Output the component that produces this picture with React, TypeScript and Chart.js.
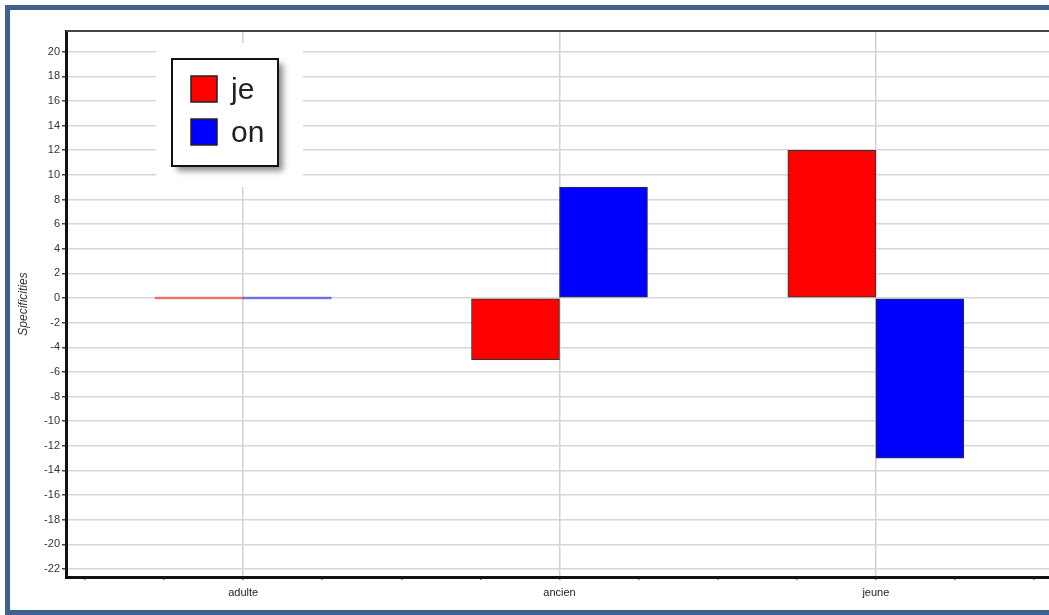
import React, { useEffect, useRef } from "react";
import { Chart, registerables } from "chart.js";

Chart.register(...registerables);

const categories = ["adulte", "ancien", "jeune"];
const categoryPositions = [0, 1, 2];
const seriesNames = ["je", "on"];
const jeValues = [0, -5, 12];
const onValues = [0, 9, -13];
const seriesColors = ["#ff0000", "#0000ff"];
const zeroColors = ["rgba(255,0,0,0.5)", "rgba(0,0,255,0.5)"];
const yMin = -22.65;
const yMax = 21.68;
const xMin = -0.56;
const xMax = 2.56;

const FONT = "'Liberation Sans', Arial, sans-serif";

const legendPlugin = {
  id: "boxLegend",
  afterDatasetsDraw(chart: any) {
    const ctx = chart.ctx;
    const area = chart.chartArea;
    ctx.save();
    // plot top border
    ctx.strokeStyle = "#444";
    ctx.lineWidth = 2;
    ctx.beginPath();
    ctx.moveTo(area.left, area.top);
    ctx.lineTo(area.right, area.top);
    ctx.stroke();

    // legend clearing area
    ctx.fillStyle = "#fff";
    ctx.fillRect(156, 43, 147, 144);
    // shadowed box
    ctx.shadowColor = "rgba(0,0,0,0.45)";
    ctx.shadowBlur = 6;
    ctx.shadowOffsetX = 5;
    ctx.shadowOffsetY = 5;
    ctx.fillStyle = "#fff";
    ctx.fillRect(172, 59, 106, 107);
    ctx.shadowColor = "transparent";
    ctx.shadowBlur = 0;
    ctx.shadowOffsetX = 0;
    ctx.shadowOffsetY = 0;
    ctx.strokeStyle = "#111";
    ctx.lineWidth = 2;
    ctx.strokeRect(172, 59, 106, 107);

    const rows = [76, 119];
    seriesNames.forEach((name, i) => {
      ctx.fillStyle = seriesColors[i];
      ctx.fillRect(191, rows[i], 26, 26);
      ctx.strokeStyle = "#222";
      ctx.lineWidth = 1.5;
      ctx.strokeRect(191, rows[i], 26, 26);
      ctx.fillStyle = "#222";
      ctx.font = `30px ${FONT}`;
      ctx.textAlign = "left";
      ctx.textBaseline = "middle";
      ctx.fillText(name, 231, rows[i] + 15);
    });
    ctx.restore();
  },
};

export default function App() {
  const canvasRef = useRef<HTMLCanvasElement | null>(null);

  useEffect(() => {
    if (!canvasRef.current) return;
    const mk = (vals: number[], i: number) => ({
      label: seriesNames[i],
      data: categoryPositions.map((x, k) => ({ x, y: vals[k] })),
      backgroundColor: (c: any) => (c.raw && c.raw.y === 0 ? zeroColors[i] : seriesColors[i]),
      borderColor: "#333",
      borderWidth: (c: any) => (c.raw && c.raw.y === 0 ? 0 : 1),
      borderSkipped: false,
      minBarLength: 2,
      barThickness: 88,
    });
    const chart = new Chart(canvasRef.current, {
      type: "bar",
      data: {
        datasets: [mk(jeValues, 0), mk(onValues, 1)] as any,
      },
      plugins: [legendPlugin],
      options: {
        animation: false,
        responsive: false,
        layout: { padding: { left: 0, top: 31, right: 47, bottom: 0 } },
        plugins: { legend: { display: false }, tooltip: { enabled: false } },
        scales: {
          x: {
            type: "linear",
            min: xMin,
            max: xMax,
            offset: false,
            afterFit: (s: any) => {
              s.height = 38;
            },
            grid: {
              offset: false,
              color: (c: any) =>
                c.tick && Number.isInteger(c.tick.value) ? "#d2d2d2" : "rgba(0,0,0,0)",
              lineWidth: 1.5,
              tickColor: "#777",
              tickLength: 3,
            },
            border: { display: true, color: "#111", width: 3 },
            ticks: {
              stepSize: 0.25,
              includeBounds: false,
              autoSkip: false,
              maxRotation: 0,
              padding: 6,
              color: "#222",
              font: { family: FONT, size: 11 },
              callback: (v: any) => {
                const n = Number(v);
                return Number.isInteger(n) && categories[n] !== undefined ? categories[n] : "";
              },
            },
          },
          y: {
            type: "linear",
            min: yMin,
            max: yMax,
            afterFit: (s: any) => {
              s.width = 66;
            },
            grid: { color: "#d6d6d6", lineWidth: 1.5, tickColor: "#444", tickLength: 4 },
            border: { display: true, color: "#111", width: 3 },
            ticks: {
              stepSize: 2,
              includeBounds: false,
              padding: 2,
              color: "#333",
              font: { family: FONT, size: 11 },
            },
            title: {
              display: true,
              text: "Specificities",
              color: "#333",
              font: { family: FONT, size: 12, style: "italic" },
              padding: { top: 16, bottom: 0 },
            },
          },
        },
      } as any,
    });
    return () => chart.destroy();
  }, []);

  return (
    <div
      style={{
        position: "fixed",
        left: 0,
        top: 0,
        width: 1049,
        height: 615,
        overflow: "hidden",
        background: "#fff",
      }}
    >
      <canvas
        ref={canvasRef}
        width={1100}
        height={615}
        style={{ position: "absolute", left: 0, top: 0, width: 1100, height: 615 }}
      />
      <div
        style={{
          position: "absolute",
          left: 5,
          top: 5,
          width: 1100,
          height: 610,
          boxSizing: "border-box",
          border: "5px solid #3d6190",
          pointerEvents: "none",
        }}
      />
    </div>
  );
}
